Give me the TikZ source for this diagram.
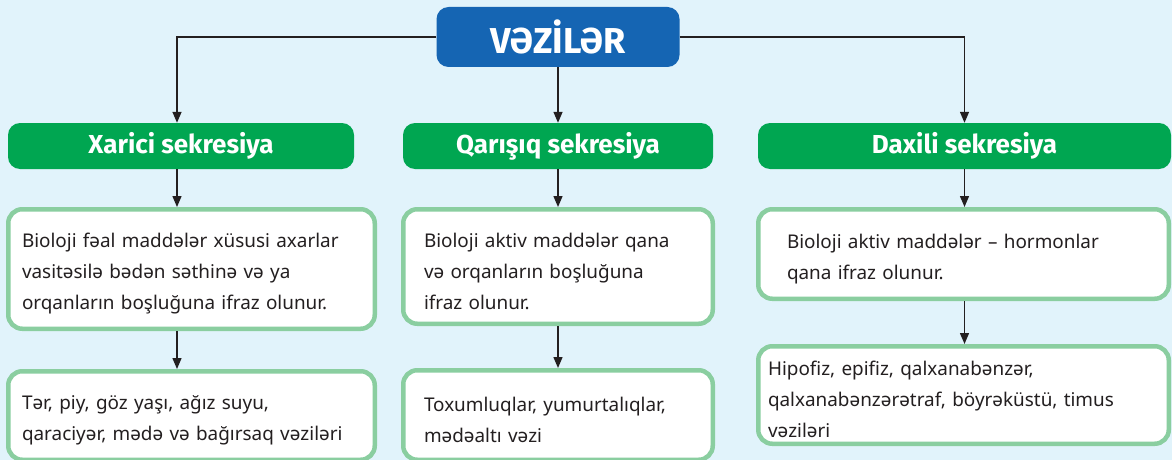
\documentclass[tikz,border=0pt]{standalone}
\usepackage{fontspec}
\setmainfont{Noto Sans}
\newfontfamily\headfont{Fira Sans}
\usepackage{tikz}
\usetikzlibrary{arrows.meta}
\usepackage{xcolor}
\definecolor{sky}{HTML}{E1F3FB}
\definecolor{royal}{HTML}{1565B3}
\definecolor{leaf}{HTML}{00A651}
\definecolor{rim}{HTML}{8ACEA0}
\definecolor{ink}{HTML}{231F20}

\begin{document}
\begin{tikzpicture}[x=1pt, y=-1pt, >={Triangle[width=9pt,length=11pt]},
    titlebox/.style={fill=royal, rounded corners=12pt, minimum width=243pt, minimum height=60pt,
      text=white, font=\headfont\fontsize{36}{40}\selectfont\bfseries},
    headbox/.style={fill=leaf, rounded corners=12pt, minimum height=46pt,
      text=white, font=\headfont\fontsize{26}{30}\selectfont\bfseries},
    infobox/.style={draw=rim, line width=4.5pt, fill=white, rounded corners=14pt, text=ink,
      align=left, inner ysep=0pt, font=\fontsize{18.9}{31}\selectfont,
      execute at begin node={\rule{0pt}{24pt}}},
    conn/.style={->, draw=ink, line width=1.4pt}]
    \useasboundingbox (0,0) rectangle (1172,460);
    \fill[sky] (0,0) rectangle (1172,460);
    \clip (0,0) rectangle (1172,460);
    % top and headers
    \node[titlebox] (title) at (558,37) {VƏZİLƏR};
    \node[headbox, minimum width=346pt] (xarici) at (181,146) {Xarici sekresiya};
    \node[headbox, minimum width=310pt] (qarisiq) at (558,146) {Qarışıq sekresiya};
    \node[headbox, minimum width=413pt] (daxili) at (964.5,146) {Daxili sekresiya};
    % texts
    \node[infobox, inner xsep=13.75pt, text width=339pt, minimum height=119.5pt] (xar1) at (191.5,269)
      {Bioloji fəal maddələr xüsusi axarlar\\vasitəsilə bədən səthinə və ya\\orqanların boşluğuna ifraz olunur.};
    \node[infobox, inner xsep=13.75pt, text width=339pt, minimum height=88.5pt] (xar2) at (191.5,415.5)
      {Tər, piy, göz yaşı, ağız suyu,\\qaraciyər, mədə və bağırsaq vəziləri};
    \node[infobox, inner xsep=20.75pt, text width=268pt, minimum height=114.5pt] (qar1) at (558,266.5)
      {Bioloji aktiv maddələr qana\\və orqanların boşluğuna\\ifraz olunur.};
    \node[infobox, inner xsep=20.75pt, text width=268pt, minimum height=89.5pt] (qar2) at (558,415)
      {Toxumluqlar, yumurtalıqlar,\\mədəaltı vəzi};
    \node[infobox, inner xsep=28.75pt, text width=353pt, minimum height=89.5pt] (dax1) at (963.5,254)
      {Bioloji aktiv maddələr – hormonlar\\qana ifraz olunur.};
    \node[infobox, inner xsep=9.75pt, text width=391pt, minimum height=97.5pt] (dax2) at (963.5,395)
      {Hipofiz, epifiz, qalxanabənzər,\\qalxanabənzərətraf, böyrəküstü, timus\\vəziləri};
    % arrows
    \draw[conn] (title.west) -| ([xshift=-4pt]xarici.north);
    \draw[conn] (title.south) -- (qarisiq.north);
    \draw[conn] (title.east) -| (daxili.north);
    \draw[conn] ([xshift=-4pt]xarici.south) -- ([xshift=-4pt]xarici.south |- xar1.north);
    \draw[conn] (qarisiq.south) -- (qar1.north);
    \draw[conn] (daxili.south) -- (daxili.south |- dax1.north);
    \draw[conn] ([xshift=-4pt]xarici.south |- xar1.south) -- ([xshift=-4pt]xarici.south |- xar2.north);
    \draw[conn] (qar1.south) -- (qar2.north);
    \draw[conn] (daxili.south |- dax1.south) -- (daxili.south |- dax2.north);
\end{tikzpicture}
\end{document}
